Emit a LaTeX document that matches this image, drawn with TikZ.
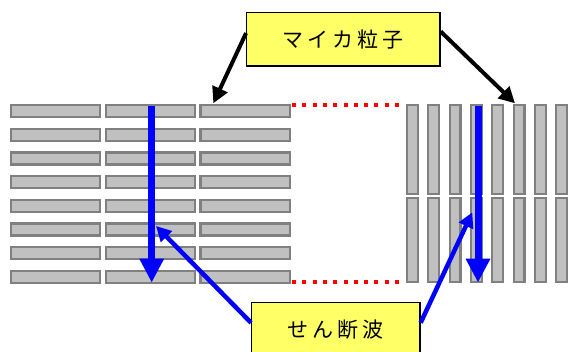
\documentclass[tikz,border=0pt]{standalone}
\usepackage{fontspec}
\newfontfamily\jpfont{Noto Sans CJK JP}
\usetikzlibrary{arrows.meta,calc}
\definecolor{barfill}{HTML}{C0C0C0}
\definecolor{barline}{HTML}{808080}
\definecolor{boxfill}{HTML}{FFFF66}
\tikzset{
  barh/.style={draw=barline, fill=barfill, line width=2.3pt},
  labelbox/.style={draw=black, fill=boxfill, line width=1.3pt, inner sep=0pt,
    font=\jpfont\fontsize{21}{24}\selectfont},
  blackarrow/.style={draw=black, line width=4pt, -{Triangle[length=16pt,width=16pt]}},
  bluemain/.style={draw=blue, line width=7pt, -{Triangle[length=24pt,width=23pt]}},
  bluediag/.style={draw=blue, line width=4.5pt, -{Triangle[length=15pt,width=15pt]}},
  reddots/.style={draw=red, line width=4pt, dash pattern=on 4pt off 6.3pt},
}
\newcommand{\spc}{\kern4pt}
\begin{document}
\begin{tikzpicture}[x=1pt,y=-1pt]
\useasboundingbox (0,0) rectangle (568,352);
\clip (0,0) rectangle (568,352);
% horizontal mica particles (left)
\foreach \r in {0,...,7}{
  \foreach \c in {0,1,2}{
    \path[barh] ({11+94.7*\c},{105.3+23.65*\r}) rectangle ++(89.3,12);
  }
}
% vertical mica particles (right)
\foreach \c in {0,...,7}{
  \path[barh] ({407+21.33*\c},105.3) rectangle ++(10.7,89);
  \path[barh] ({407+21.33*\c},197.7) rectangle ++(10.7,84.6);
}
% red dotted lines
\coordinate (rt1) at (292,105.3);
\coordinate (rt2) at (402,105.3);
\coordinate (rb1) at (292,282.3);
\coordinate (rb2) at (402,282.3);
\draw[reddots] (rt1) -- (rt2);
\draw[reddots] (rb1) -- (rb2);
% labels
\node[labelbox, minimum width=193.3pt, minimum height=53.7pt] (mica) at (343.35,39.15) {マ\spc イ\spc カ\spc 粒\spc 子};
\node[labelbox, minimum width=168.3pt, minimum height=58pt, anchor=north] (shear) at (335.85,301.7) {\raisebox{5pt}{せ\spc ん\spc 断\spc 波}};
% blue shear-wave arrows
\coordinate (l1) at (151.7,106);
\coordinate (l2) at (151.7,282.7);
\coordinate (r1) at (478,106);
\coordinate (r2) at (478,282.7);
\draw[bluemain] (l1) -- (l2);
\draw[bluemain] (r1) -- (r2);
\coordinate (ld) at (156,226);
\coordinate (rd) at (472.3,212.3);
\draw[bluediag] ($(shear.north west)!0.355!(shear.south west)$) -- (ld);
\draw[bluediag] ($(shear.north east)!0.355!(shear.south east)$) -- (rd);
% black arrows
\coordinate (bl) at (213.3,103.3);
\coordinate (br) at (515,103.3);
\draw[blackarrow] ($(mica.north west)!0.39!(mica.south west)$) -- (bl);
\draw[blackarrow] ($(mica.north east)!0.36!(mica.south east)$) -- (br);
\end{tikzpicture}
\end{document}
